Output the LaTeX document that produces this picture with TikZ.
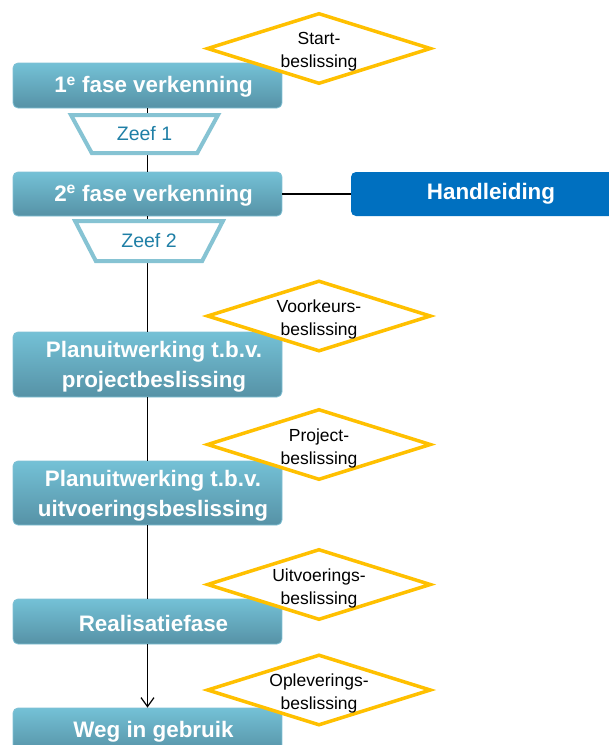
\documentclass[tikz,border=0pt]{standalone}
\usepackage{fontspec}
\setmainfont{Liberation Sans}
\usetikzlibrary{shapes.geometric,arrows.meta}
\definecolor{boxtop}{RGB}{116,193,214}
\definecolor{boxbot}{RGB}{86,146,166}
\definecolor{boxedge}{RGB}{128,192,212}
\definecolor{sievecol}{RGB}{134,195,211}
\definecolor{sievetext}{RGB}{31,127,166}
\definecolor{decisioncol}{RGB}{255,192,0}
\definecolor{manualcol}{RGB}{0,112,192}
\begin{document}
\begin{tikzpicture}[x=1pt,y=-1pt,
  phase/.style={draw=boxedge, line width=0.8pt, top color=boxtop, bottom color=boxbot,
    rounded corners=5pt, minimum width=269pt, inner sep=0pt},
  phasetext/.style={inner sep=0pt, text=white,
    font=\fontsize{22.4}{30}\selectfont\bfseries, align=center},
  sieve/.style={shape=trapezium, shape border rotate=180, trapezium stretches=true,
    draw=sievecol, line width=4pt, fill=white, minimum width=148pt, inner sep=0pt,
    text=sievetext, font=\fontsize{19.5}{23}\selectfont},
  decisionbox/.style={shape=diamond, draw=decisioncol, line width=3.5pt, fill=white,
    minimum width=224pt, minimum height=71pt, inner sep=0pt},
  decisiontext/.style={inner sep=0pt, font=\fontsize{17.5}{23}\selectfont, align=center},
  manual/.style={fill=manualcol, rounded corners=5pt, minimum width=280pt, minimum height=44pt,
    inner sep=0pt, text=white, font=\fontsize{22.4}{29}\selectfont\bfseries},
  link/.style={line width=1.2pt, draw=black}
]
\useasboundingbox (0,0) rectangle (609,745);

% phase boxes
\node[phase, minimum height=45pt] (b1) at (147.5,85.5) {};
\node[phase, minimum height=44pt] (b2) at (147.5,194) {};
\node[phase, minimum height=65pt] (b3) at (147.5,364.5) {};
\node[phase, minimum height=64pt] (b4) at (147.5,493) {};
\node[phase, minimum height=45pt] (b5) at (147.5,621.5) {};
\node[phase, minimum height=45pt] (b6) at (147.5,730.5) {};

\node[phasetext] (t1) at ([xshift=6pt,yshift=-1.5pt]b1.center) {1\textsuperscript{e} fase verkenning};
\node[phasetext] (t2) at ([xshift=6pt,yshift=-1.5pt]b2.center) {2\textsuperscript{e} fase verkenning};
\node[phasetext] (t3) at ([xshift=6.5pt,yshift=-2.5pt]b3.center) {Planuitwerking t.b.v.\\projectbeslissing};
\node[phasetext] (t4) at ([xshift=5.5pt,yshift=-2.5pt]b4.center) {Planuitwerking t.b.v.\\uitvoeringsbeslissing};
\node[phasetext] (t5) at ([xshift=6pt,yshift=-1.5pt]b5.center) {Realisatiefase};
\node[phasetext] (t6) at ([xshift=6pt,yshift=-1.5pt]b6.center) {Weg in gebruik};

\node[manual] (hand) at (491,194) {Handleiding};

% connectors
\draw[link] (b1.south) -- (b2.north);
\draw[link] (b2.south) -- (b3.north);
\draw[link] (b3.south) -- (b4.north);
\draw[link] (b4.south) -- (b5.north);
\draw[link, -{Straight Barb[length=9pt,width=13pt,line width=1.2pt]}] (b5.south) -- (b6.north);
\draw[link] (b2.east) -- (hand.west);

% sieves
\node[sieve, trapezium angle=52.7, minimum height=38pt] (z1) at (144.5,134) {Zeef 1};
\node[sieve, trapezium angle=53, minimum height=40pt] (z2) at (149,241) {Zeef 2};

% decisions
\node[decisionbox] (d1) at (319,48.5) {};
\node[decisionbox] (d2) at (319,316) {};
\node[decisionbox] (d3) at (319,444.5) {};
\node[decisionbox] (d4) at (319,584.5) {};
\node[decisionbox] (d5) at (319,690) {};
\node[decisiontext] (e1) at ([yshift=-3.5pt]d1.center) {Start-\\beslissing};
\node[decisiontext] (e2) at ([yshift=-3.5pt]d2.center) {Voorkeurs-\\beslissing};
\node[decisiontext] (e3) at ([yshift=-3.5pt]d3.center) {Project-\\beslissing};
\node[decisiontext] (e4) at ([yshift=-3.5pt]d4.center) {Uitvoerings-\\beslissing};
\node[decisiontext] (e5) at ([yshift=-3.5pt]d5.center) {Opleverings-\\beslissing};
\end{tikzpicture}
\end{document}
